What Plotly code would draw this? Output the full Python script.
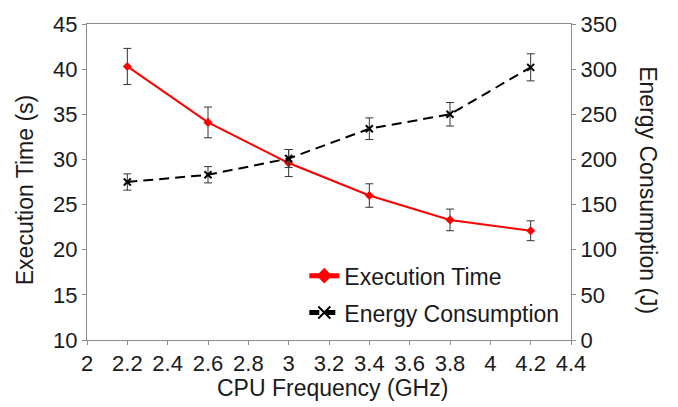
import plotly.graph_objects as go

freq = [2.2, 2.6, 3.0, 3.4, 3.8, 4.2]
exec_time = [40.3, 34.1, 29.6, 26.0, 23.3, 22.1]
exec_err = [2.0, 1.7, 1.5, 1.3, 1.2, 1.1]
energy = [175, 183, 201, 234, 250, 302]
energy_err = [9, 9, 10, 12, 13, 15]

FONT = "Liberation Sans, Arial, sans-serif"
TXT = "#1a1a1a"
AXC = "#8c8c8c"

fig = go.Figure()
fig.add_trace(go.Scatter(
    x=freq, y=exec_time, name="Execution Time", mode="lines+markers",
    line=dict(color="#ff0000", width=2),
    marker=dict(symbol="diamond", size=7, color="#ff0000"),
    error_y=dict(type="data", array=exec_err, color="#333333", thickness=1, width=4),
    legendgroup="a", yaxis="y"))
fig.add_trace(go.Scatter(
    x=freq, y=energy, name="Energy Consumption", mode="lines+markers",
    line=dict(color="#000000", width=2, dash="10px,6px"),
    marker=dict(symbol="x-thin", size=7, color="#000000",
                line=dict(color="#000000", width=2)),
    error_y=dict(type="data", array=energy_err, color="#333333", thickness=1, width=4),
    legendgroup="b", yaxis="y2"))

tickfont = dict(family=FONT, size=22, color=TXT)
fig.update_layout(
    width=678, height=407,
    margin=dict(l=87, r=107, t=17, b=67),
    paper_bgcolor="white", plot_bgcolor="white",
    font=dict(family=FONT, size=22, color=TXT),
    showlegend=True,
    legend=dict(x=0.449, y=0.145, xanchor="left", yanchor="middle",
                bgcolor="rgba(0,0,0,0)", font=dict(family=FONT, size=23, color=TXT),
                tracegroupgap=4, itemsizing="constant"),
    xaxis=dict(range=[2, 4.4], dtick=0.2, tick0=2, showgrid=False, zeroline=False,
               showline=True, linecolor=AXC, linewidth=1, mirror=True,
               ticks="outside", ticklen=4, tickcolor=AXC, tickfont=tickfont),
    yaxis=dict(range=[10, 45], dtick=5, showgrid=False, zeroline=False,
               showline=True, linecolor=AXC, linewidth=1,
               ticks="outside", ticklen=4, tickcolor=AXC, tickfont=tickfont),
    yaxis2=dict(range=[0, 350], dtick=50, overlaying="y", side="right",
                showgrid=False, zeroline=False,
                showline=True, linecolor=AXC, linewidth=1,
                ticks="outside", ticklen=4, tickcolor=AXC, tickfont=tickfont),
    annotations=[
        dict(text="Execution Time (s)", xref="paper", yref="paper", x=0, y=0.474,
             xanchor="center", yanchor="middle", xshift=-62, textangle=-90,
             showarrow=False, font=dict(family=FONT, size=23, color=TXT)),
        dict(text="Energy Consumption (J)", xref="paper", yref="paper", x=1, y=0.474,
             xanchor="center", yanchor="middle", xshift=77, textangle=90,
             showarrow=False, font=dict(family=FONT, size=23, color=TXT)),
        dict(text="CPU Frequency (GHz)", xref="paper", yref="paper", x=0.508, y=0,
             xanchor="center", yanchor="middle", yshift=-48,
             showarrow=False, font=dict(family=FONT, size=23, color=TXT)),
    ],
)

fig.write_html("out.html")
